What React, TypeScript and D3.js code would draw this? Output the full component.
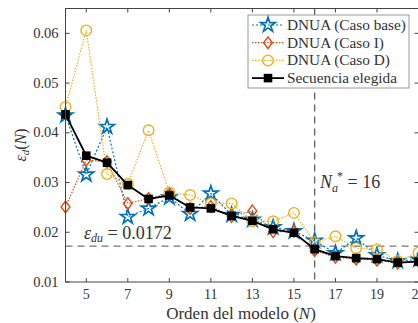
import React from "react";
import * as d3 from "d3";

const orders = [4, 5, 6, 7, 8, 9, 10, 11, 12, 13, 14, 15, 16, 17, 18, 19, 20, 21];
const casoBase = [0.0435, 0.0316, 0.0412, 0.0231, 0.0248, 0.0270, 0.0237, 0.0278, 0.0235, 0.0225, 0.0210, 0.0202, 0.0183, 0.0158, 0.0188, 0.0154, 0.0142, 0.0145];
const casoI = [0.0251, 0.0345, 0.0342, 0.0258, 0.0268, 0.0278, 0.0248, 0.0252, 0.0232, 0.0243, 0.0201, 0.0202, 0.0163, 0.0150, 0.0146, 0.0144, 0.0138, 0.0141];
const casoD = [0.0452, 0.0606, 0.0317, 0.0297, 0.0405, 0.0280, 0.0275, 0.0258, 0.0258, 0.0222, 0.0222, 0.0239, 0.0180, 0.0192, 0.0168, 0.0166, 0.0142, 0.0159];
const elegida = [0.0437, 0.0354, 0.0340, 0.0295, 0.0267, 0.0274, 0.0250, 0.0248, 0.0233, 0.0223, 0.0206, 0.0199, 0.0166, 0.0152, 0.0148, 0.0146, 0.0139, 0.0141];
const xTicks = [5, 7, 9, 11, 13, 15, 17, 19, 21];
const yTicks = [0.01, 0.02, 0.03, 0.04, 0.05, 0.06];
const legendLabels = ["DNUA (Caso base)", "DNUA (Caso I)", "DNUA (Caso D)", "Secuencia elegida"];
const epsDu = 0.0172;
const nStar = 16;

const FONT = "'Liberation Serif', serif";
const BLUE = "#0072BD";
const ORANGE = "#D95319";
const YELLOW = "#EDB120";

const left = 65.5, right = 418.5, top = 8.5, bottom = 282;
const x = d3.scaleLinear().domain([4, 21]).range([left, right]);
const y = d3.scaleLinear().domain([0.01, 0.065]).range([bottom, top]);

function Marker({ kind, cx, cy, color }: { kind: string; cx: number; cy: number; color: string }) {
  if (kind === "star") {
    const p = d3.symbol().type(d3.symbolStar).size(66)();
    return <path d={p || ""} transform={`translate(${cx},${cy})`} fill="none" stroke={color} strokeWidth={1.7} />;
  }
  if (kind === "diamond") {
    const r = 5.8;
    return <path d={`M${cx},${cy - r}L${cx + r * 0.75},${cy}L${cx},${cy + r}L${cx - r * 0.75},${cy}Z`} fill="none" stroke={color} strokeWidth={1.5} />;
  }
  if (kind === "circle") {
    return <circle cx={cx} cy={cy} r={5.3} fill="none" stroke={color} strokeWidth={1.4} />;
  }
  return <rect x={cx - 4.3} y={cy - 4.3} width={8.6} height={8.6} fill="#000" />;
}

const series = [
  { data: casoBase, color: BLUE, kind: "star", dash: "2,2", w: 1.2 },
  { data: casoI, color: ORANGE, kind: "diamond", dash: "1.5,1.5", w: 1.2 },
  { data: casoD, color: YELLOW, kind: "circle", dash: "1.5,1.5", w: 1.2 },
  { data: elegida, color: "#000", kind: "square", dash: "", w: 1.8 },
];

export default function App() {
  const line = d3.line<number>().x((_, i) => x(orders[i])).y((d) => y(d));
  return (
    <svg width={418} height={323} style={{ position: "absolute", left: 0, top: 0, background: "#fff" }}>
      <rect x={0} y={0} width={418} height={323} fill="#fff" />
      <line x1={left} x2={right} y1={y(epsDu)} y2={y(epsDu)} stroke="#777" strokeWidth={1.3} strokeDasharray="7,5" />
      <line x1={x(nStar)} x2={x(nStar)} y1={top} y2={bottom} stroke="#555" strokeWidth={1.2} strokeDasharray="7,5" />
      {series.map((s, si) => (
        <g key={si}>
          <path d={line(s.data) || ""} fill="none" stroke={s.color} strokeWidth={s.w} strokeDasharray={s.dash} />
          {s.data.map((v, i) => (
            <Marker key={i} kind={s.kind} cx={x(orders[i])} cy={y(v)} color={s.color} />
          ))}
        </g>
      ))}
      <rect x={left} y={top} width={right - left} height={bottom - top} fill="none" stroke="#444" strokeWidth={1} />
      {xTicks.map((t) => (
        <g key={t}>
          <line x1={x(t)} x2={x(t)} y1={bottom} y2={bottom - 4} stroke="#444" />
          <line x1={x(t)} x2={x(t)} y1={top} y2={top + 4} stroke="#444" />
          <text x={x(t)} y={bottom + 17} textAnchor="middle" fontFamily={FONT} fontSize={14} fill="#333">{t}</text>
        </g>
      ))}
      {yTicks.map((t) => (
        <g key={t}>
          <line x1={left} x2={left + 4} y1={y(t)} y2={y(t)} stroke="#444" />
          <line x1={right} x2={right - 4} y1={y(t)} y2={y(t)} stroke="#444" />
          <text x={left - 7} y={y(t) + 4.5} textAnchor="end" fontFamily={FONT} fontSize={14.5} fill="#333">{t.toFixed(2)}</text>
        </g>
      ))}
      <text x={84} y={239} fontFamily={FONT} fontSize={18} fill="#333">
        <tspan fontStyle="italic">ε</tspan>
        <tspan fontStyle="italic" fontSize={12} dy={3}>du</tspan>
        <tspan dy={-3}> = 0.0172</tspan>
      </text>
      <text x={320} y={188} fontFamily={FONT} fontSize={18} fill="#333">
        <tspan fontStyle="italic">N</tspan>
        <tspan fontStyle="italic" fontSize={12} dy={4}>a</tspan>
        <tspan fontSize={12} dx={-1} dy={-12}>*</tspan>
        <tspan dy={8}> = 16</tspan>
      </text>
      <text x={241} y={319} textAnchor="middle" fontFamily={FONT} fontSize={17} fill="#333">
        Orden del modelo (<tspan fontStyle="italic">N</tspan>)
      </text>
      <text transform="translate(26,145) rotate(-90)" textAnchor="middle" fontFamily={FONT} fontSize={16} fill="#333">
        <tspan fontStyle="italic">ε</tspan>
        <tspan fontStyle="italic" fontSize={11} dy={3}>d</tspan>
        <tspan dy={-3}>(</tspan>
        <tspan fontStyle="italic">N</tspan>
        <tspan>)</tspan>
      </text>
      <g>
        <rect x={248} y={15} width={161} height={73} fill="#fff" stroke="#999" strokeWidth={1} />
        {legendLabels.map((lab, i) => {
          const s = series[i];
          const ly = 25 + i * 17.7;
          return (
            <g key={lab}>
              <line x1={252} x2={284} y1={ly} y2={ly} stroke={s.color} strokeWidth={s.w} strokeDasharray={s.dash} />
              <Marker kind={s.kind} cx={268} cy={ly} color={s.color} />
              <text x={287} y={ly + 5} fontFamily={FONT} fontSize={15.3} fill="#333">{lab}</text>
            </g>
          );
        })}
      </g>
    </svg>
  );
}
